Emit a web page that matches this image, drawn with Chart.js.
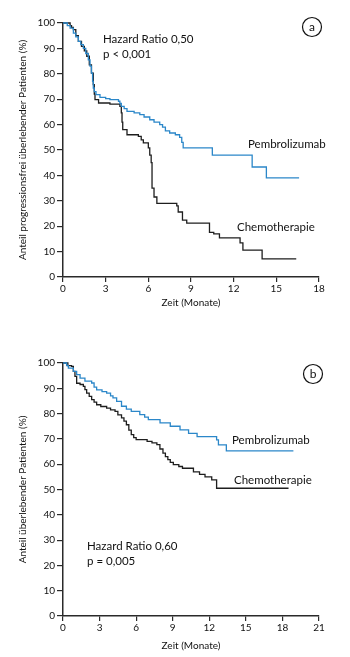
<!DOCTYPE html>
<html>
<head>
<meta charset="utf-8">
<script src="https://cdn.jsdelivr.net/npm/chart.js@4.4.1/dist/chart.umd.min.js"></script>
<style>
  body { margin: 0; background: #fff; }
  #wrap { position: relative; width: 350px; height: 657px; }
  canvas { position: absolute; left: 0; }
</style>
</head>
<body>
<div id="wrap">
  <canvas id="chartA" width="350" height="330" style="top:0"></canvas>
  <canvas id="chartB" width="350" height="327" style="top:330px"></canvas>
</div>
<script>
// (a) progressionsfreies Überleben - Zeit (Monate) / Anteil (%)
const aPembroT = [0, 0.3, 0.5, 0.73, 0.9, 1.08, 1.25, 1.43, 1.6, 1.78, 1.9, 2.0, 2.08, 2.13, 2.2, 2.32, 2.6, 3.0, 3.3, 3.9, 4.0, 4.1, 4.3, 4.5, 5.0, 5.4, 5.7, 6.1, 6.4, 6.8, 7.0, 7.2, 7.5, 7.9, 8.2, 8.35, 8.45, 10.5, 13.3, 14.3, 16.6];
const aPembroS = [100, 99, 98, 96, 94.5, 92.8, 91.5, 90, 88, 85.5, 83, 80.3, 77, 74.4, 73, 71.8, 70.7, 70.2, 69.8, 69.2, 68.3, 67.2, 66.3, 65.2, 64.6, 63.9, 63, 61.9, 61, 60, 59, 57.5, 56.7, 56, 55, 53, 50.8, 48, 43.3, 39, 39];
const aChemoT = [0, 0.5, 0.6, 0.73, 0.9, 1.08, 1.3, 1.5, 1.67, 1.85, 2.0, 2.13, 2.2, 2.25, 2.5, 3.3, 4.0, 4.1, 4.15, 4.2, 4.5, 5.3, 5.5, 5.65, 6.0, 6.1, 6.2, 6.26, 6.4, 6.6, 8.0, 8.1, 8.4, 8.7, 10.3, 10.6, 11.0, 12.45, 12.65, 14.0, 16.4];
const aChemoS = [100, 99, 98.3, 97.4, 95, 92.8, 90.8, 89, 86.9, 83.5, 80.3, 75.7, 72, 69.8, 68.5, 68.1, 67.2, 64.6, 61, 58, 56, 55.4, 54, 52.8, 50.8, 48, 45, 35, 31.5, 29, 28, 25.6, 22.4, 21.2, 17.6, 17, 15.4, 13.4, 10.6, 7.1, 7.1];

// (b) Gesamtüberleben
const bPembroT = [0, 0.3, 0.44, 0.85, 1.12, 1.4, 1.8, 2.35, 2.55, 2.76, 3.2, 3.58, 3.9, 4.1, 4.4, 4.8, 5.2, 5.6, 6.3, 6.7, 7.0, 7.96, 8.8, 9.6, 10.3, 11.0, 12.6, 12.75, 13.4, 18.9];
const bPembroS = [100, 99, 98, 96.7, 95.4, 94, 92.8, 92.1, 90.5, 89.4, 88.7, 88.1, 87, 86.2, 84.8, 82.9, 81.8, 80.9, 79.6, 78.6, 77.6, 76.3, 75, 73.6, 72.2, 70.9, 69.6, 67.6, 65.3, 65.3];
const bChemoT = [0, 0.4, 0.7, 0.85, 0.98, 1.12, 1.4, 1.67, 1.8, 1.94, 2.15, 2.35, 2.55, 2.76, 3.1, 3.58, 3.9, 4.27, 4.5, 4.8, 5.0, 5.2, 5.4, 5.6, 5.8, 6.0, 6.9, 7.3, 7.7, 7.95, 8.2, 8.4, 8.6, 8.8, 9.05, 9.5, 9.8, 10.7, 11.2, 11.65, 12.2, 12.6, 18.5];
const bChemoS = [100, 99, 98.7, 96.7, 94.7, 92, 91.5, 90.8, 89.5, 88.1, 86.8, 85.5, 84.5, 83.5, 82.8, 82.2, 81.5, 80.9, 79.5, 78.3, 77, 75.6, 73.5, 71.7, 70.5, 69.7, 69.0, 68.4, 67.7, 66, 64.4, 63, 61.8, 60.7, 59.8, 59.1, 58.4, 57, 56, 55, 53.8, 50.5, 50.5];

const BLUE = '#2b87c9';
const BLACK = '#1e1e1e';
const FONT = 'Lato, "Open Sans", sans-serif';

function pts(t, s) {
  return t.map(function (x, i) { return { x: x, y: s[i] }; });
}

// text labels + circled letter
function labelPlugin(items, letter) {
  return {
    id: 'labels',
    afterDraw: function (chart) {
      const ctx = chart.ctx;
      ctx.save();
      ctx.fillStyle = '#111';
      ctx.textBaseline = 'middle';
      ctx.textAlign = 'left';
      items.forEach(function (it) {
        ctx.font = it.size + 'px ' + FONT;
        ctx.fillText(it.text, it.x, it.y);
      });
      ctx.beginPath();
      ctx.arc(letter.x, letter.y, 9.5, 0, Math.PI * 2);
      ctx.lineWidth = 1.2;
      ctx.strokeStyle = '#111';
      ctx.stroke();
      ctx.font = '12px ' + FONT;
      ctx.textAlign = 'center';
      ctx.fillText(letter.text, letter.x, letter.y);
      ctx.restore();
    }
  };
}

function makeChart(id, sets, xMax, yTitle, opts) {
  const axisColor = '#2a2a2a';
  let config = {
    type: 'line',
    data: {
      datasets: [{
        data: pts(sets[0][0], sets[0][1]),
        borderColor: BLUE,
        borderWidth: 1.3,
        stepped: 'before',
        pointRadius: 0,
        clip: false
      }, {
        data: pts(sets[1][0], sets[1][1]),
        borderColor: BLACK,
        borderWidth: 1.3,
        stepped: 'before',
        pointRadius: 0,
        clip: false
      }]
    },
    options: {
      responsive: false,
      animation: false,
      layout: { padding: { top: opts.top, right: 31, left: 0, bottom: 0 } },
      plugins: { legend: { display: false }, tooltip: { enabled: false } },
      scales: {
        x: {
          type: 'linear',
          min: 0,
          max: xMax,
          afterFit: function (s) { s.height = opts.xh; },
          ticks: { stepSize: 3, color: '#111', padding: 1, font: { family: FONT, size: 10 } },
          grid: { drawOnChartArea: false, drawTicks: true, tickLength: 5, color: axisColor, lineWidth: 1.2 },
          border: { display: true, color: axisColor, width: 1.5 },
          title: { display: true, text: 'Zeit (Monate)', color: '#111', font: { family: FONT, size: 10 }, padding: { top: 0, bottom: opts.xtPad } }
        },
        y: {
          min: 0,
          max: 100,
          afterFit: function (s) { s.width = 63; },
          ticks: { stepSize: 10, color: '#111', padding: 2, font: { family: FONT, size: 10 } },
          grid: { drawOnChartArea: false, drawTicks: true, tickLength: 6, color: axisColor, lineWidth: 1.2 },
          border: { display: true, color: axisColor, width: 1.5 },
          title: { display: true, text: yTitle, color: '#111', font: { family: FONT, size: 10 }, padding: { top: 17, bottom: 0 } }
        }
      }
    },
    plugins: [labelPlugin(opts.labels, opts.letter)]
  };
  return new Chart(document.getElementById(id), config);
}

makeChart('chartA', [[aPembroT, aPembroS], [aChemoT, aChemoS]], 18,
  'Anteil progressionsfrei überlebender Patienten (%)', {
    top: 23, xh: 53, xtPad: 21,
    labels: [
      { text: 'Hazard Ratio 0,50', x: 103, y: 39, size: 11.5 },
      { text: 'p < 0,001', x: 103, y: 54, size: 11.5 },
      { text: 'Pembrolizumab', x: 248, y: 144, size: 11.5 },
      { text: 'Chemotherapie', x: 237, y: 227, size: 11.5 }
    ],
    letter: { text: 'a', x: 312, y: 27 }
  });

makeChart('chartB', [[bPembroT, bPembroS], [bChemoT, bChemoS]], 21,
  'Anteil überlebender Patienten (%)', {
    top: 33, xh: 41, xtPad: 5,
    labels: [
      { text: 'Hazard Ratio 0,60', x: 87, y: 216, size: 11.5 },
      { text: 'p = 0,005', x: 87, y: 231, size: 11.5 },
      { text: 'Pembrolizumab', x: 232, y: 110, size: 11.5 },
      { text: 'Chemotherapie', x: 234, y: 150, size: 11.5 }
    ],
    letter: { text: 'b', x: 313, y: 44 }
  });
</script>
</body>
</html>
